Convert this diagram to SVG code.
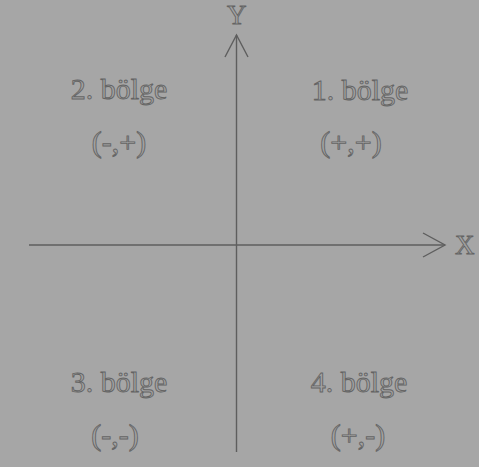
<svg xmlns="http://www.w3.org/2000/svg" width="479" height="467" viewBox="0 0 479 467">
<style>
.ax{stroke:#5e5e5e;stroke-width:1.4;fill:none}
.t{font-family:"Liberation Serif","Times New Roman",serif;font-size:30px;fill:#a2a2a2;stroke:#646464;stroke-width:0.9;text-anchor:middle}
.a{font-family:"Liberation Serif","Times New Roman",serif;font-size:27px;fill:#a2a2a2;stroke:#646464;stroke-width:0.9}
</style>
<rect width="479" height="467" fill="#a6a6a6"/>
<g id="connectors">
<line class="ax" x1="29" y1="245" x2="445" y2="245"/>
<polyline class="ax" points="423,233 445,245 423,257"/>
<line class="ax" x1="236.5" y1="35" x2="236.5" y2="452"/>
<polyline class="ax" points="225,57 236.5,35 248,57"/>
</g>
<g id="labelX"><text class="a" x="455" y="254">X</text></g>
<g id="labelY"><text class="a" x="227" y="24">Y</text></g>
<g id="q1"><text class="t" x="360" y="100">1. bölge</text><text class="t" x="351" y="152">(+,+)</text></g>
<g id="q2"><text class="t" x="119" y="99">2. bölge</text><text class="t" x="119" y="152">(-,+)</text></g>
<g id="q3"><text class="t" x="119" y="392">3. bölge</text><text class="t" x="115" y="445">(-,-)</text></g>
<g id="q4"><text class="t" x="359" y="392">4. bölge</text><text class="t" x="358" y="445">(+,-)</text></g>
</svg>
